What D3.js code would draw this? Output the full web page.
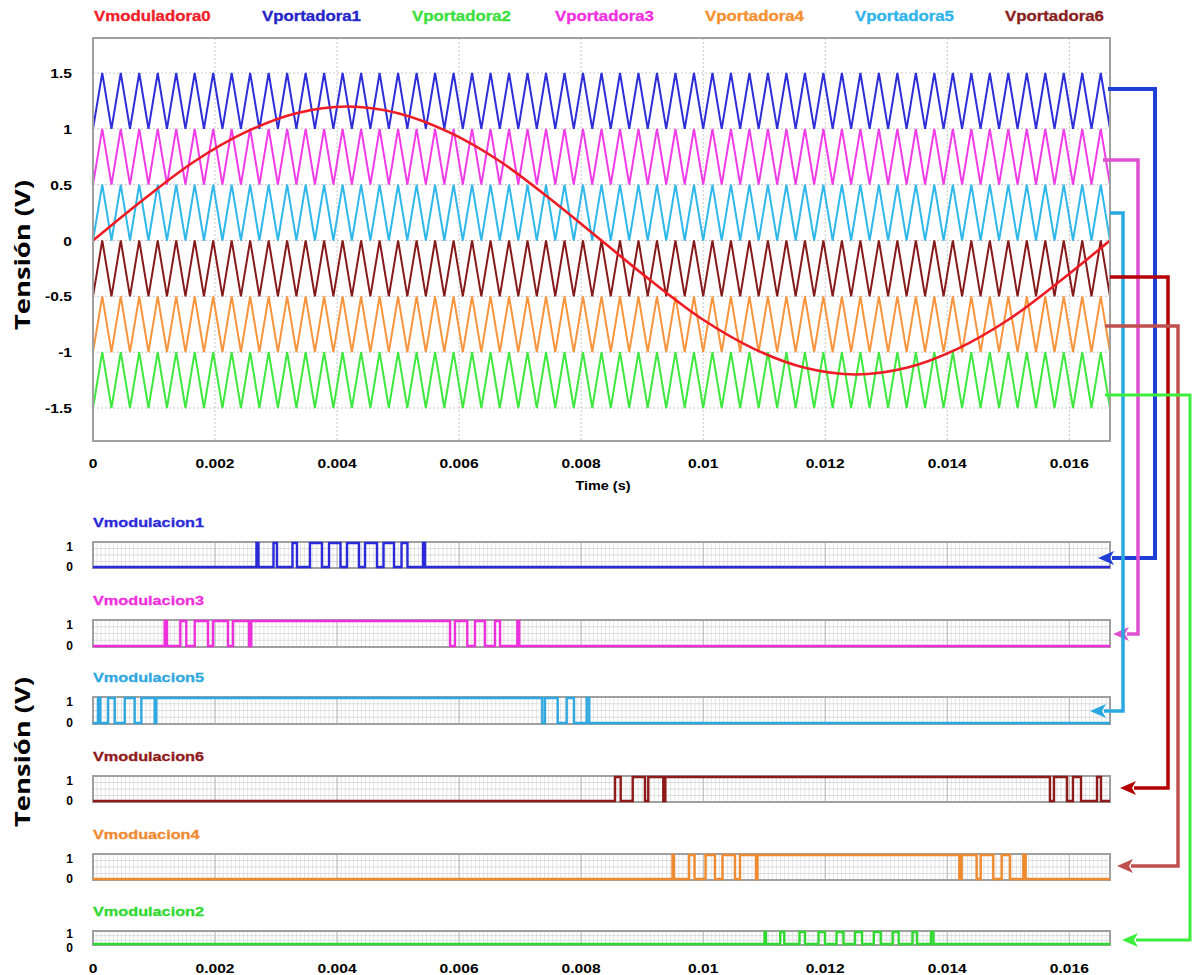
<!DOCTYPE html>
<html>
<head>
<meta charset="utf-8">
<script src="https://cdn.jsdelivr.net/npm/d3@7"></script>
<style>
  body { margin: 0; background: #fff; }
  svg { display: block; font-family: "Liberation Sans", Arial, sans-serif; font-weight: bold; }
</style>
</head>
<body>
<svg id="chart" width="1192" height="975"></svg>
<script>
// ---- data ----
const xTicks = [0, 0.002, 0.004, 0.006, 0.008, 0.01, 0.012, 0.014, 0.016];
const xTickLabels = ['0', '0.002', '0.004', '0.006', '0.008', '0.01', '0.012', '0.014', '0.016'];
const yTicks = [1.5, 1, 0.5, 0, -0.5, -1, -1.5];
const yTickLabels = ['1.5', '1', '0.5', '0', '-0.5', '-1', '-1.5'];
const tEnd = 0.016667;

const legendNames = ['Vmoduladora0', 'Vportadora1', 'Vportadora2', 'Vportadora3', 'Vportadora4', 'Vportadora5', 'Vportadora6'];
const legendColors = ['#f0202a', '#2424c8', '#3ce03c', '#f030e0', '#f59030', '#30b4ec', '#8a1e1e'];

// carriers (same order as legend 1..6): band limits and number of cycles
const carrierLow = [1, -1.5, 0.5, -1, 0, -0.5];
const carrierHigh = [1.5, -1, 1, -0.5, 0.5, 0];
const carrierColors = ['#2e2ed8', '#3ee83e', '#f03ce8', '#f7943c', '#30b8ea', '#861a1a'];
const carrierCycles = 55;

// modulating wave samples
const modT = [0, 0.000833, 0.001667, 0.0025, 0.003333, 0.004167, 0.005, 0.005833, 0.006667, 0.0075, 0.008333,
  0.009167, 0.01, 0.010833, 0.011667, 0.0125, 0.013333, 0.014167, 0.015, 0.015833, 0.016667];
const modV = [0, 0.37, 0.71, 0.97, 1.14, 1.2, 1.14, 0.97, 0.71, 0.37, 0,
  -0.37, -0.71, -0.97, -1.14, -1.2, -1.14, -0.97, -0.71, -0.37, 0];

// PWM panels: names, colours and "high" intervals [start, end] in seconds
const panelNames = ['Vmodulacion1', 'Vmodulacion3', 'Vmodulacion5', 'Vmodulacion6', 'Vmoduacion4', 'Vmodulacion2'];
const panelColors = ['#2a2ad8', '#ee30dc', '#2fa8e0', '#8e1a1a', '#ee8a30', '#30d830'];
const pulsesMod1 = [[0.002679, 0.002712], [0.002958, 0.003015], [0.003269, 0.003343], [0.003556, 0.003753],
  [0.003868, 0.004056], [0.004163, 0.004359], [0.004458, 0.004654], [0.004761, 0.004933],
  [0.005056, 0.005154], [0.005408, 0.005441]];
const pulsesMod3 = [[0.001175, 0.001213], [0.001431, 0.001529], [0.001667, 0.001885], [0.001967, 0.002212],
  [0.002294, 0.002557], [0.002594, 0.005851], [0.005932, 0.006134], [0.00626, 0.006424],
  [0.006588, 0.00667], [0.006954, 0.006986]];
const pulsesMod5 = [[0.000082, 0.00012], [0.000246, 0.000356], [0.00052, 0.000683], [0.000792, 0.001011],
  [0.001037, 0.007363], [0.007407, 0.007616], [0.007763, 0.007883], [0.008091, 0.008133]];
const pulsesMod6 = [[0.008555, 0.008648], [0.008845, 0.009046], [0.0091, 0.009346], [0.009379, 0.015683],
  [0.015749, 0.015962], [0.01606, 0.016192], [0.016454, 0.016519]];
const pulsesMod4 = [[0.009497, 0.009522], [0.009767, 0.009858], [0.010038, 0.010193], [0.010316, 0.010521],
  [0.010603, 0.010865], [0.01089, 0.014197], [0.014236, 0.014482], [0.014548, 0.014754],
  [0.014892, 0.015028], [0.015246, 0.015285]];
const pulsesMod2 = [[0.011005, 0.011029], [0.011263, 0.011329], [0.011578, 0.011668], [0.01189, 0.011996],
  [0.012185, 0.012299], [0.012488, 0.012603], [0.012796, 0.01291], [0.013105, 0.013204],
  [0.01343, 0.013504], [0.013733, 0.013774]];
const panelPulses = [pulsesMod1, pulsesMod3, pulsesMod5, pulsesMod6, pulsesMod4, pulsesMod2];

// ---- layout ----
const svg = d3.select('#chart');
const left = 93, right = 1110;
const mainTop = 38, mainBottom = 441;
const panelTop = [542, 620, 697, 776, 854, 931];
const panelBottom = [568, 647, 724, 802, 880, 945];

const x = d3.scaleLinear().domain([0, tEnd]).range([left, right]);
const y = d3.scaleLinear().domain([-1.5, 1.5]).range([408, 73]);

// stretch text horizontally (the picture is a bit wide)
function stretch(sel, k) {
  sel.each(function () {
    const w = this.getComputedTextLength();
    d3.select(this).attr('textLength', w * k).attr('lengthAdjust', 'spacingAndGlyphs');
  });
}

// legend
const leg = svg.append('g');
const legendX = [94, 262, 412, 555, 705, 855, 1005];
leg.selectAll('text').data(legendNames).join('text')
  .attr('x', (d, i) => legendX[i]).attr('y', 21)
  .attr('font-size', 14).attr('fill', (d, i) => legendColors[i])
  .attr('stroke', (d, i) => legendColors[i]).attr('stroke-width', 0.3)
  .text((d) => d)
  .call(stretch, 1.2);

// main frame + grid
const main = svg.append('g');
main.append('g').selectAll('line').data(xTicks.slice(1)).join('line')
  .attr('x1', (d) => x(d)).attr('x2', (d) => x(d))
  .attr('y1', mainTop).attr('y2', mainBottom)
  .attr('stroke', '#c8c8c8').attr('stroke-width', 1).attr('stroke-dasharray', '2,2');
main.append('g').selectAll('line').data(yTicks).join('line')
  .attr('x1', left).attr('x2', right)
  .attr('y1', (d) => y(d)).attr('y2', (d) => y(d))
  .attr('stroke', '#c8c8c8').attr('stroke-width', 1).attr('stroke-dasharray', '2,2');

// carriers
const line = d3.line().x((d) => x(d[0])).y((d) => y(d[1]));
carrierLow.forEach((lo, c) => {
  const pts = d3.range(carrierCycles * 2 + 1).map((i) => [i * tEnd / (carrierCycles * 2), i % 2 ? carrierHigh[c] : lo]);
  main.append('path').attr('d', line(pts))
    .attr('fill', 'none').attr('stroke', carrierColors[c]).attr('stroke-width', 2);
});

// modulator
const modLine = d3.line().x((d) => x(d[0])).y((d) => y(d[1])).curve(d3.curveCatmullRom);
main.append('path').attr('d', modLine(modT.map((t, i) => [t, modV[i]])))
  .attr('fill', 'none').attr('stroke', '#ee1c24').attr('stroke-width', 2.6);

main.append('rect').attr('x', left).attr('y', mainTop)
  .attr('width', right - left).attr('height', mainBottom - mainTop)
  .attr('fill', 'none').attr('stroke', '#a0a0a0').attr('stroke-width', 2);

// main axes labels
main.append('g').selectAll('text').data(yTicks).join('text')
  .attr('x', 72).attr('y', (d) => y(d) + 5).attr('text-anchor', 'end')
  .attr('font-size', 13).text((d, i) => yTickLabels[i]).call(stretch, 1.2);
main.append('g').selectAll('text').data(xTicks).join('text')
  .attr('x', (d) => x(d)).attr('y', 468).attr('text-anchor', 'middle')
  .attr('font-size', 13).text((d, i) => xTickLabels[i]).call(stretch, 1.2);
main.append('text').attr('x', 603).attr('y', 490).attr('text-anchor', 'middle')
  .attr('font-size', 12).text('Time (s)').call(stretch, 1.2);

// y titles
[255, 752].forEach((cy) => {
  svg.append('text').attr('transform', `translate(30,${cy}) rotate(-90)`)
    .attr('text-anchor', 'middle').attr('font-size', 21)
    .attr('font-family', '"Open Sans", "Liberation Sans", sans-serif')
    .attr('textLength', 150).attr('lengthAdjust', 'spacingAndGlyphs')
    .text('Tensión (V)');
});

// PWM panels
panelNames.forEach((name, p) => {
  const top = panelTop[p], bot = panelBottom[p];
  const g = svg.append('g');
  const py = d3.scaleLinear().domain([0, 1]).range([bot - 1, top + 1]);

  g.append('text').attr('x', 93).attr('y', top - 15).attr('font-size', 13)
    .attr('fill', panelColors[p]).attr('stroke', panelColors[p]).attr('stroke-width', 0.3)
    .text(name).call(stretch, 1.25);

  // fine grid
  const minor = d3.range(0, tEnd, 0.002 / 30);
  g.append('g').selectAll('line').data(minor).join('line')
    .attr('x1', (d) => x(d)).attr('x2', (d) => x(d)).attr('y1', top).attr('y2', bot)
    .attr('stroke', '#dadada').attr('stroke-width', 0.7);
  const rows = bot - top > 20 ? [0.25, 0.5, 0.75] : [0.33, 0.66];
  g.append('g').selectAll('line').data(rows).join('line')
    .attr('x1', left).attr('x2', right)
    .attr('y1', (d) => top + d * (bot - top)).attr('y2', (d) => top + d * (bot - top))
    .attr('stroke', '#d6d6d6').attr('stroke-width', 0.8);
  g.append('g').selectAll('line').data(xTicks.slice(1)).join('line')
    .attr('x1', (d) => x(d)).attr('x2', (d) => x(d)).attr('y1', top).attr('y2', bot)
    .attr('stroke', '#b8b8b8').attr('stroke-width', 1);
  g.append('rect').attr('x', left).attr('y', top).attr('width', right - left).attr('height', bot - top)
    .attr('fill', 'none').attr('stroke', '#a0a0a0').attr('stroke-width', 2);

  // step trace
  const pts = [[0, 0]];
  panelPulses[p].forEach(([a, b]) => { pts.push([a, 1]); pts.push([b, 0]); });
  pts.push([tEnd, 0]);
  const step = d3.line().x((d) => x(d[0])).y((d) => py(d[1])).curve(d3.curveStepAfter);
  g.append('path').attr('d', step(pts)).attr('fill', 'none')
    .attr('stroke', panelColors[p]).attr('stroke-width', 2.4);

  // 1 / 0 labels
  g.append('text').attr('x', 73).attr('y', top + (bot - top > 20 ? 9 : 7)).attr('text-anchor', 'end')
    .attr('font-size', 12).text('1');
  g.append('text').attr('x', 73).attr('y', bot + (bot - top > 20 ? 3 : 7)).attr('text-anchor', 'end')
    .attr('font-size', 12).text('0');
});

// bottom time axis
svg.append('g').selectAll('text').data(xTicks).join('text')
  .attr('x', (d) => x(d)).attr('y', 973).attr('text-anchor', 'middle')
  .attr('font-size', 13).text((d, i) => xTickLabels[i]).call(stretch, 1.2);

// connectors from carriers to PWM panels
const arrowStartX = [1108, 1103, 1110, 1110, 1105, 1105];
const arrowStartY = [89, 160, 213, 277, 326, 395];
const arrowBendX = [1155, 1138, 1123, 1168, 1178, 1190];
const arrowEndY = [558, 634, 711, 788, 866, 940];
const arrowTipX = [1098, 1113, 1090, 1120, 1117, 1122];
const arrowColors = ['#1f3fd6', '#e050d0', '#29a9e0', '#b40000', '#c0504d', '#3cee3c'];
const arrows = svg.append('g');
arrowStartX.forEach((sx, i) => {
  const w = i === 0 ? 4 : 3.5;
  const tipBase = arrowTipX[i] + 14;
  arrows.append('path')
    .attr('d', `M${sx},${arrowStartY[i]}H${arrowBendX[i]}V${arrowEndY[i]}H${tipBase}`)
    .attr('fill', 'none').attr('stroke', arrowColors[i]).attr('stroke-width', i === 5 ? 3 : w)
    .attr('stroke-linejoin', 'miter');
  arrows.append('path')
    .attr('d', `M${arrowTipX[i]},${arrowEndY[i]}L${tipBase + 2},${arrowEndY[i] - 7}L${tipBase - 2},${arrowEndY[i]}L${tipBase + 2},${arrowEndY[i] + 7}Z`)
    .attr('fill', arrowColors[i]);
});
</script>
</body>
</html>
